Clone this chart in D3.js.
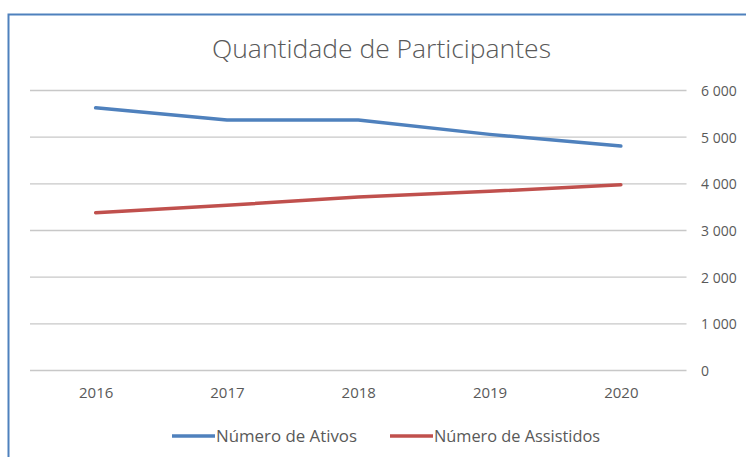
<!DOCTYPE html>
<html><head><meta charset="utf-8">
<script src="https://cdn.jsdelivr.net/npm/d3@7"></script>
<style>body{margin:0;background:#fff;}svg{display:block;font-family:"Open Sans",sans-serif;}</style>
</head><body>
<script>
const years = ["2016","2017","2018","2019","2020"];
const ativos = [5630, 5370, 5370, 5060, 4810];
const assistidos = [3380, 3540, 3720, 3840, 3980];
const yTicks = [0, 1000, 2000, 3000, 4000, 5000, 6000];
const seriesNames = ["Número de Ativos", "Número de Assistidos"];
const colors = ["#4f81bd", "#c0504d"];
const title = "Quantidade de Participantes";

const W = 746, H = 457;
const svg = d3.select("body").append("svg").attr("width", W).attr("height", H);

// frame
svg.append("path").attr("d", `M8.5,${H}V14.5H${W}`).attr("fill","none").attr("stroke","#4f81bd").attr("stroke-width",2);

const x = d3.scalePoint().domain(years).range([30, 686.5]).padding(0.5);
const y = d3.scaleLinear().domain([0, 6000]).range([370.5, 90.5]);
const loc = d3.formatLocale({decimal: ",", thousands: " ", grouping: [3], currency: ["", ""]});
const fmt = loc.format(",d");

// gridlines
svg.append("g").selectAll("line").data(yTicks).join("line")
  .attr("x1", 30).attr("x2", 686.5)
  .attr("y1", d => y(d)).attr("y2", d => y(d))
  .attr("stroke", "#c8c8c8").attr("stroke-width", 1.3);

// right axis
const yAxis = d3.axisRight(y).tickValues(yTicks).tickFormat(fmt).tickSize(0).tickPadding(0);
const gy = svg.append("g").attr("transform", "translate(701,0)").call(yAxis).attr("font-family", null);
gy.select(".domain").remove();
gy.selectAll("text").attr("fill", "#595959").attr("font-size", 14).attr("dy", "0.35em");

// bottom axis
const xAxis = d3.axisBottom(x).tickSize(0).tickPadding(0);
const gx = svg.append("g").attr("transform", "translate(0,387)").call(xAxis).attr("font-family", null);
gx.select(".domain").remove();
gx.selectAll("text").attr("fill", "#595959").attr("font-size", 15).attr("dy", "0.71em");

// lines
const line = d3.line().x((d, i) => x(years[i])).y(d => y(d));
[ativos, assistidos].forEach((s, i) => {
  svg.append("path").datum(s).attr("d", line).attr("fill", "none")
    .attr("stroke", colors[i]).attr("stroke-width", 3.5).attr("stroke-linecap", "round").attr("stroke-linejoin", "round");
});

// title
svg.append("text").attr("x", 381.5).attr("y", 58).attr("text-anchor", "middle")
  .attr("font-size", 26.5).attr("fill", "#595959").attr("font-weight", 300)
  .attr("textLength", 339).attr("lengthAdjust", "spacingAndGlyphs").text(title);

// legend
const legX = [172, 390];
const legLen = [141, 166];
seriesNames.forEach((n, i) => {
  const g = svg.append("g").attr("transform", `translate(${legX[i]},436)`);
  g.append("line").attr("x1", 0).attr("x2", 43).attr("stroke", colors[i]).attr("stroke-width", 3.5);
  g.append("text").attr("x", 44).attr("dy", "0.35em").attr("font-size", 16).attr("fill", "#595959")
    .attr("textLength", legLen[i]).attr("lengthAdjust", "spacingAndGlyphs").text(n);
});
</script>
</body></html>
